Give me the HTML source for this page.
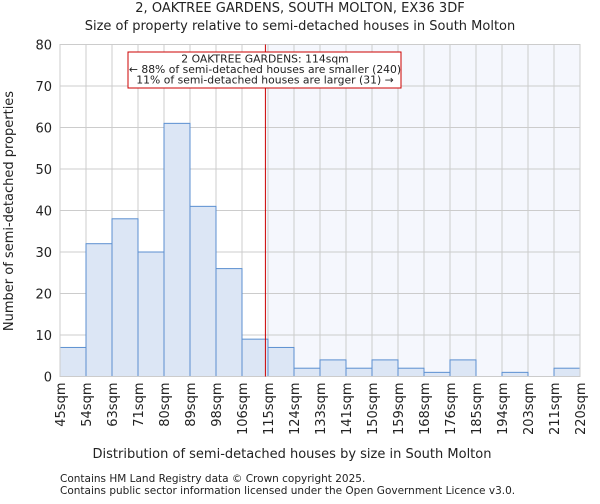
<!DOCTYPE html>
<html><head><meta charset="utf-8"><style>
body{margin:0;background:#fff;font-family:"DejaVu Sans","Liberation Sans",sans-serif;}
svg text{font-family:"DejaVu Sans","Liberation Sans",sans-serif;fill:#222;}
</style></head><body>
<svg id="chart" width="600" height="500" viewBox="0 0 600 500">
<text x="300" y="12" text-anchor="middle" font-size="13">2, OAKTREE GARDENS, SOUTH MOLTON, EX36 3DF</text>
<text x="300" y="30" text-anchor="middle" font-size="13">Size of property relative to semi-detached houses in South Molton</text>
<g id="plot"></g>
<text x="292" y="458" text-anchor="middle" font-size="13">Distribution of semi-detached houses by size in South Molton</text>
<text transform="translate(13,211) rotate(-90)" text-anchor="middle" font-size="13">Number of semi-detached properties</text>
<text x="60" y="482" font-size="10.5" fill="#444">Contains HM Land Registry data © Crown copyright 2025.</text>
<text x="60" y="494" font-size="10.5" fill="#444">Contains public sector information licensed under the Open Government Licence v3.0.</text>
</svg>
<script>
const categories=["45sqm","54sqm","63sqm","71sqm","80sqm","89sqm","98sqm","106sqm","115sqm","124sqm","133sqm","141sqm","150sqm","159sqm","168sqm","176sqm","185sqm","194sqm","203sqm","211sqm","220sqm"];
const counts=[7,32,38,30,61,41,26,9,7,2,4,2,4,2,1,4,0,1,0,2];
const yTicks=[0,10,20,30,40,50,60,70,80];
const markerBin=7.9;
const L=60,R=580,T=44.5,B=376.5,yMax=80;
const n=counts.length,bw=(R-L)/n;
const xs=i=>L+i*bw;
const ys=v=>B-(v/yMax)*(B-T);
const NS="http://www.w3.org/2000/svg";
const g=document.getElementById('plot');
function mk(t,a){const e=document.createElementNS(NS,t);for(const k in a)e.setAttribute(k,a[k]);g.appendChild(e);return e;}
const mx=xs(markerBin);
let sh=mk('rect',{x:mx,y:T,width:R-mx,height:B-T,fill:'#f5f7fd'});


yTicks.forEach(v=>{let l=mk('line',{x1:L,x2:R,y1:ys(v),y2:ys(v),stroke:'#ccc','stroke-width':1});


let t=mk('text',{x:L-8,y:ys(v)+5,'text-anchor':'end','font-size':13});t.textContent=v;

});
categories.forEach((c,i)=>{let l=mk('line',{x1:xs(i),x2:xs(i),y1:T,y2:B,stroke:'#ccc','stroke-width':1});


let t=mk('text',{'text-anchor':'end','font-size':13,transform:`translate(${xs(i)+5},${B+6}) rotate(-90)`});t.textContent=c;

});
counts.forEach((v,i)=>{if(v<=0)return;let r=mk('rect',{x:xs(i),y:ys(v),width:bw,height:B-ys(v),fill:'#dce6f5',stroke:'#5b8fd0','stroke-width':1});

});
let ax=mk('rect',{x:L,y:T,width:R-L,height:B-T,fill:'none',stroke:'#ccc'});


let ml=mk('line',{x1:mx,x2:mx,y1:T,y2:B,stroke:'#c00','stroke-width':1});


let bx=mk('rect',{x:128,y:52,width:273,height:36,fill:'#fff',stroke:'#c00','stroke-width':1});


["2 OAKTREE GARDENS: 114sqm","← 88% of semi-detached houses are smaller (240)","11% of semi-detached houses are larger (31) →"].forEach((s,i)=>{
let t=mk('text',{x:265,y:62.5+i*10.5,'text-anchor':'middle','font-size':10.8});t.textContent=s;

});
</script>
</body></html>
